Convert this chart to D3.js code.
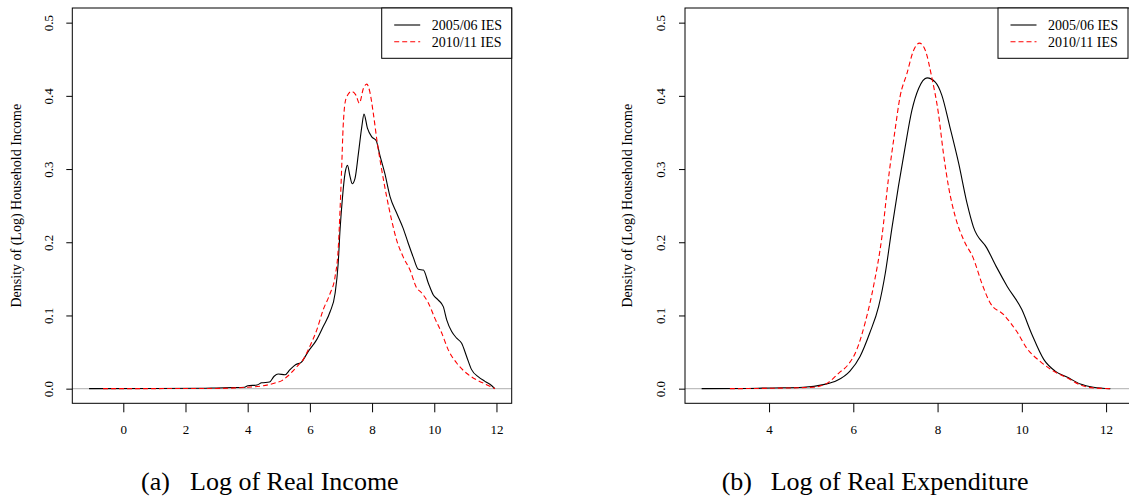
<!DOCTYPE html>
<html>
<head>
<meta charset="utf-8">
<script src="https://cdn.jsdelivr.net/npm/d3@7"></script>
<style>
  body { margin: 0; background: #fff; }
  svg { display: block; font-family: "Liberation Serif", "DejaVu Serif", serif; }
</style>
</head>
<body>
<svg id="chart" width="1129" height="499"></svg>
<script>
// ---- data: [log value, density] ----
var seriesNames = ["2005/06 IES", "2010/11 IES"];
var yTicks = [0.0, 0.1, 0.2, 0.3, 0.4, 0.5];
var incomeTicks = [0, 2, 4, 6, 8, 10, 12];
var expendTicks = [4, 6, 8, 10, 12];
var yLabel = "Density of (Log) Household Income";

var income0506 = [
  [-1.1, 0], [1.0, 0.0002], [2.5, 0.0005], [3.0, 0.001], [3.5, 0.0015], [3.9, 0.002],
  [4.0, 0.004], [4.3, 0.005], [4.45, 0.008], [4.7, 0.009], [4.85, 0.017], [4.98, 0.020],
  [5.2, 0.019], [5.36, 0.026], [5.55, 0.033], [5.72, 0.036], [5.95, 0.051], [6.22, 0.067],
  [6.43, 0.085], [6.65, 0.105], [6.81, 0.130], [6.91, 0.171], [6.97, 0.217], [7.05, 0.262],
  [7.13, 0.294], [7.21, 0.305], [7.29, 0.290], [7.36, 0.280], [7.45, 0.287], [7.56, 0.321],
  [7.67, 0.358], [7.74, 0.375], [7.85, 0.356], [7.99, 0.344], [8.13, 0.339], [8.25, 0.319],
  [8.41, 0.294], [8.58, 0.262], [8.79, 0.240], [9.0, 0.219], [9.16, 0.199], [9.32, 0.180],
  [9.49, 0.163], [9.65, 0.162], [9.81, 0.144], [9.97, 0.128], [10.13, 0.121], [10.29, 0.112],
  [10.40, 0.094], [10.56, 0.078], [10.72, 0.069], [10.88, 0.062], [11.04, 0.044], [11.20, 0.026],
  [11.42, 0.016], [11.63, 0.010], [11.85, 0.004], [11.95, 0]
];
var income1011 = [
  [-0.65, 0], [1.0, 0.0001], [3.0, 0.0003], [4.0, 0.002], [4.5, 0.004], [4.9, 0.008],
  [5.1, 0.011], [5.31, 0.018], [5.58, 0.030], [5.79, 0.040], [6.0, 0.058], [6.22, 0.080],
  [6.43, 0.108], [6.65, 0.130], [6.81, 0.153], [6.91, 0.190], [6.97, 0.244], [7.02, 0.299],
  [7.07, 0.358], [7.16, 0.396], [7.34, 0.406], [7.48, 0.401], [7.59, 0.390], [7.72, 0.410],
  [7.83, 0.416], [7.93, 0.405], [8.04, 0.376], [8.17, 0.335], [8.31, 0.299], [8.47, 0.262],
  [8.63, 0.230], [8.79, 0.203], [9.0, 0.180], [9.22, 0.162], [9.43, 0.138], [9.59, 0.131],
  [9.81, 0.117], [10.02, 0.096], [10.24, 0.076], [10.45, 0.053], [10.72, 0.035], [11.04, 0.021],
  [11.36, 0.012], [11.68, 0.0055], [11.95, 0]
];
var expend0506 = [
  [2.4, 0], [3.5, 0.0002], [4.02, 0.001], [4.81, 0.002], [5.29, 0.0055], [5.61, 0.011],
  [5.92, 0.024], [6.16, 0.044], [6.39, 0.076], [6.60, 0.112], [6.76, 0.158], [6.91, 0.217],
  [7.07, 0.276], [7.23, 0.330], [7.39, 0.380], [7.55, 0.410], [7.75, 0.4245], [7.94, 0.419],
  [8.10, 0.401], [8.29, 0.358], [8.50, 0.308], [8.70, 0.253], [8.85, 0.221], [9.17, 0.192],
  [9.41, 0.165], [9.65, 0.140], [10.0, 0.108], [10.24, 0.074], [10.52, 0.040], [10.79, 0.024],
  [11.07, 0.016], [11.39, 0.0064], [11.70, 0.002], [12.1, 0]
];
var expend1011 = [
  [3.07, 0], [4.02, 0.0005], [5.05, 0.002], [5.41, 0.0086], [5.65, 0.021], [5.88, 0.033],
  [6.08, 0.053], [6.28, 0.090], [6.48, 0.140], [6.68, 0.208], [6.83, 0.285], [6.99, 0.353],
  [7.11, 0.399], [7.27, 0.430], [7.43, 0.462], [7.57, 0.472], [7.71, 0.462], [7.86, 0.426],
  [8.02, 0.376], [8.14, 0.321], [8.26, 0.276], [8.42, 0.235], [8.62, 0.203], [8.85, 0.178],
  [9.05, 0.144], [9.25, 0.117], [9.57, 0.101], [9.88, 0.078], [10.12, 0.055], [10.44, 0.037],
  [10.75, 0.024], [11.07, 0.015], [11.39, 0.005], [11.70, 0.001], [12.15, 0]
];

var svg = d3.select("#chart");
var plotTop = 8, plotBottom = 403.3;

var drawPanel = function(p) {
  var x = d3.scaleLinear().domain(p.xDomain).range([p.left, p.right]);
  var y = d3.scaleLinear().domain([-0.02, 0.52]).range([plotBottom, plotTop]);
  var g = svg.append("g");

  // zero line
  g.append("line")
    .attr("x1", p.left).attr("x2", p.boxRight)
    .attr("y1", y(0)).attr("y2", y(0))
    .attr("stroke", "#bebebe").attr("stroke-width", 1.2);

  var line = d3.line()
    .x(function(d){ return x(d[0]); })
    .y(function(d){ return y(d[1]); })
    .curve(d3.curveMonotoneX);

  g.append("path").datum(p.s1)
    .attr("d", line).attr("fill", "none")
    .attr("stroke", "#000").attr("stroke-width", 1.1);
  g.append("path").datum(p.s2)
    .attr("d", line).attr("fill", "none")
    .attr("stroke", "#ff0000").attr("stroke-width", 1.1)
    .attr("stroke-dasharray", "5,3");

  // y axis
  var yAxis = d3.axisLeft(y).tickValues(yTicks).tickFormat(d3.format(".1f")).tickSize(6).tickSizeOuter(0);
  var ya = g.append("g").attr("transform", "translate(" + p.left + ",0)").call(yAxis);
  ya.select(".domain").remove();
  ya.selectAll("line").attr("stroke", "#000");
  ya.selectAll("text")
    .attr("x", null).attr("dy", null)
    .attr("text-anchor", "middle")
    .attr("font-size", 13)
    .attr("font-family", "Liberation Serif")
    .attr("fill", "#000")
    .attr("transform", "translate(" + (p.yLabX - p.left) + ",0) rotate(-90)");

  // x axis
  var xAxis = d3.axisBottom(x).tickValues(p.xTicks).tickSize(9).tickSizeOuter(0);
  var xa = g.append("g").attr("transform", "translate(0," + plotBottom + ")").call(xAxis);
  xa.select(".domain").remove();
  xa.selectAll("line").attr("stroke", "#000");
  xa.selectAll("text")
    .attr("y", 30.7).attr("dy", null)
    .attr("font-size", 13)
    .attr("font-family", "Liberation Serif")
    .attr("fill", "#000");

  // frame
  g.append("rect")
    .attr("x", p.left).attr("y", plotTop)
    .attr("width", p.boxRight - p.left).attr("height", plotBottom - plotTop)
    .attr("fill", "none").attr("stroke", "#000").attr("stroke-width", 1);

  // y title
  g.append("text")
    .attr("transform", "translate(" + p.yTitleX + "," + ((plotTop + plotBottom) / 2) + ") rotate(-90)")
    .attr("text-anchor", "middle")
    .attr("font-size", 14)
    .text(yLabel);

  // legend
  var lg = g.append("g").attr("transform", "translate(" + (p.legendRight - 130) + "," + plotTop + ")");
  lg.append("rect").attr("width", 130).attr("height", 50.3)
    .attr("fill", "#fff").attr("stroke", "#000").attr("stroke-width", 1);
  seriesNames.forEach(function(name, i){
    var ly = 17 + i * 16.7;
    lg.append("line").attr("x1", 12.5).attr("x2", 38.5).attr("y1", ly).attr("y2", ly)
      .attr("stroke", i ? "#ff0000" : "#000").attr("stroke-width", 1.1)
      .attr("stroke-dasharray", i ? "5,3" : null);
    lg.append("text").attr("x", 50).attr("y", ly + 5).attr("font-size", 14).text(name);
  });

  // caption
  var cap = svg.append("text").attr("y", 490).attr("font-size", 26);
  cap.append("tspan").attr("x", p.capX).text(p.capTag);
  cap.append("tspan").attr("x", p.capX + 49).text(p.capText);
};

drawPanel({
  left: 72.3, right: 511.7, boxRight: 511.7, xDomain: [-1.64, 12.49],
  xTicks: incomeTicks, s1: income0506, s2: income1011,
  yLabX: 53, yTitleX: 21, legendRight: 511.7,
  capX: 141, capTag: "(a)", capText: "Log of Real Income"
});
drawPanel({
  left: 685, right: 1128, boxRight: 1130, xDomain: [2.005, 12.52],
  xTicks: expendTicks, s1: expend0506, s2: expend1011,
  yLabX: 664.5, yTitleX: 632, legendRight: 1128,
  capX: 721.7, capTag: "(b)", capText: "Log of Real Expenditure"
});
</script>
</body>
</html>
